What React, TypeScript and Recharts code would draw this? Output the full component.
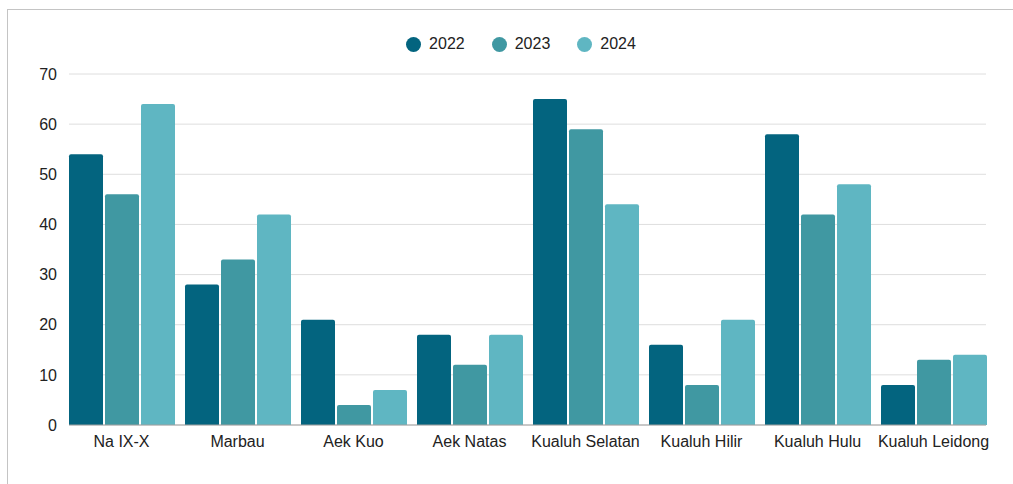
import React from "react"
import { BarChart, Bar, XAxis, YAxis, CartesianGrid, Legend } from "recharts"

const kecamatan = [
  "Na IX-X",
  "Marbau",
  "Aek Kuo",
  "Aek Natas",
  "Kualuh Selatan",
  "Kualuh Hilir",
  "Kualuh Hulu",
  "Kualuh Leidong",
]
const tahun2022 = [54, 28, 21, 18, 65, 16, 58, 8]
const tahun2023 = [46, 33, 4, 12, 59, 8, 42, 13]
const tahun2024 = [64, 42, 7, 18, 44, 21, 48, 14]
const yTicks = [0, 10, 20, 30, 40, 50, 60, 70]

const series = [
  { key: "2022", color: "#03647f" },
  { key: "2023", color: "#4098a2" },
  { key: "2024", color: "#5fb6c2" },
]

const data = kecamatan.map((name, i) => ({
  name,
  "2022": tahun2022[i],
  "2023": tahun2023[i],
  "2024": tahun2024[i],
}))

const font = "'Liberation Sans', Arial, sans-serif"

function LegendContent() {
  return (
    <div
      style={{
        display: "flex",
        justifyContent: "center",
        gap: 27,
        marginLeft: 56,
        fontFamily: font,
        fontSize: 16,
        color: "#222",
      }}
    >
      {series.map((s) => (
        <div key={s.key} style={{ display: "flex", alignItems: "center", gap: 8 }}>
          <span style={{ width: 15, height: 15, borderRadius: "50%", background: s.color, display: "inline-block" }} />
          <span>{s.key}</span>
        </div>
      ))}
    </div>
  )
}

export default function App() {
  return (
    <div style={{ position: "fixed", left: 0, top: 0, width: 1013, height: 484, background: "#fff", overflow: "hidden" }}>
      <div
        style={{
          position: "absolute",
          left: 7,
          top: 9,
          width: 1100,
          height: 600,
          borderTop: "1px solid #c4c4c4",
          borderLeft: "1px solid #c4c4c4",
        }}
      />
      <div style={{ position: "absolute", left: 0, top: 0 }}>
        <BarChart
          width={1013}
          height={484}
          data={data}
          margin={{ top: 44, right: 27, bottom: 29, left: 0 }}
          barCategoryGap={5.5}
          barGap={2}
        >
          <CartesianGrid vertical={false} stroke="#dedede" />
          <XAxis
            dataKey="name"
            padding={{ left: -5.5, right: -5.5 }}
            tickLine={false}
            axisLine={{ stroke: "#a0a0a0" }}
            tickMargin={5}
            interval={0}
            tick={{ fill: "#222", fontSize: 16, fontFamily: font }}
          />
          <YAxis
            width={69}
            domain={[0, 70]}
            ticks={yTicks}
            tickLine={false}
            axisLine={false}
            tickMargin={6}
            tick={{ fill: "#222", fontSize: 16, fontFamily: font }}
          />
          <Legend verticalAlign="top" height={30} wrapperStyle={{ top: 35 }} content={<LegendContent />} />
          {series.map((s) => (
            <Bar key={s.key} dataKey={s.key} fill={s.color} radius={[2, 2, 0, 0]} isAnimationActive={false} />
          ))}
        </BarChart>
      </div>
    </div>
  )
}
